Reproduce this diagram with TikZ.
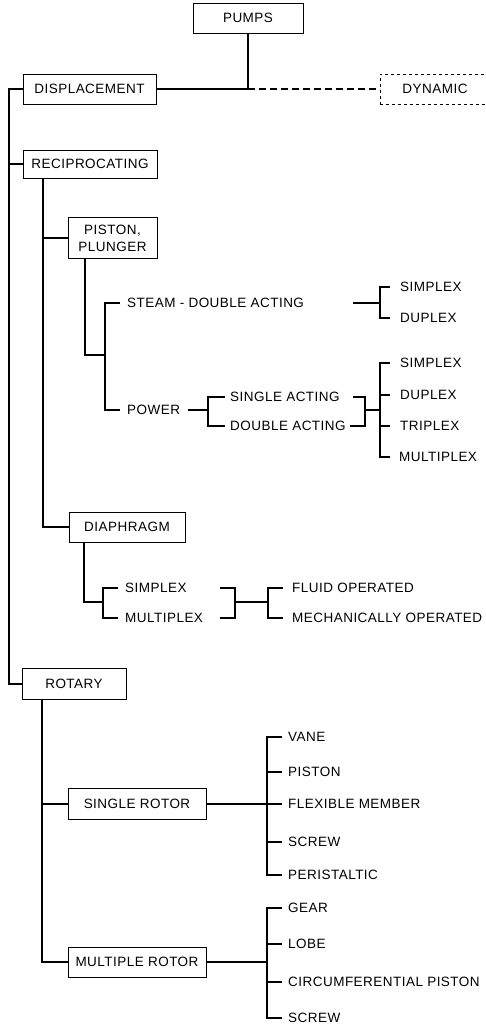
\documentclass[tikz,border=0pt]{standalone}
\usepackage{fontspec}
\setmainfont{Liberation Sans}[LetterSpace=3.5]
\usetikzlibrary{calc}
\begin{document}
\begin{tikzpicture}[x=1pt,y=-1pt,
  every node/.style={font=\fontsize{13.5pt}{17pt}\selectfont, inner sep=0pt},
  cbox/.style={draw, line width=0.9pt, align=center},
  lbl/.style={anchor=west},
  conn/.style={line width=1.8pt, line join=miter}]
\useasboundingbox (0,0) rectangle (485,1027);
\clip (0,0) rectangle (485,1027);
\fill[white] (0,0) rectangle (485,1027);

% boxes
\node[cbox, minimum width=110pt, minimum height=30pt] (pumps) at (248,18) {PUMPS};
\node[cbox, minimum width=133pt, minimum height=30pt] (disp) at (89.5,89) {DISPLACEMENT};
\node[draw, dashed, line width=0.9pt, anchor=west, text width=98pt, inner xsep=22pt, minimum height=30pt, align=left] (dyn) at (380,89) {DYNAMIC};
\node[cbox, minimum width=134pt, minimum height=28pt] (recip) at (90,164) {RECIPROCATING};
\node[cbox, minimum width=89pt, minimum height=41pt] (piston) at (112.5,238) {PISTON,\\PLUNGER};
\node[cbox, minimum width=116pt, minimum height=30pt] (diaph) at (127,527) {DIAPHRAGM};
\node[cbox, minimum width=104pt, minimum height=31pt] (rotary) at (74,684) {ROTARY};
\node[cbox, minimum width=138pt, minimum height=31pt] (srotor) at (137,804) {SINGLE ROTOR};
\node[cbox, minimum width=138pt, minimum height=30pt] (mrotor) at (137,962) {MULTIPLE ROTOR};

% labels
\node[lbl] (steam) at (127,303) {STEAM - DOUBLE ACTING};
\node[lbl] (power) at (127,410) {POWER};
\node[lbl] (s1) at (400,287) {SIMPLEX};
\node[lbl] (d1) at (400,318) {DUPLEX};
\node[lbl] (sa) at (230,397) {SINGLE ACTING};
\node[lbl] (da) at (230,426) {DOUBLE ACTING};
\node[lbl] (s2) at (400,363) {SIMPLEX};
\node[lbl] (d2) at (400,395) {DUPLEX};
\node[lbl] (t2) at (400,426) {TRIPLEX};
\node[lbl] (m2) at (399,457) {MULTIPLEX};
\node[lbl] (ds) at (125,588) {SIMPLEX};
\node[lbl] (dm) at (125,618) {MULTIPLEX};
\node[lbl] (fo) at (292,588) {FLUID OPERATED};
\node[lbl] (mo) at (292,618) {MECHANICALLY OPERATED};
\node[lbl] (vane) at (288,737) {VANE};
\node[lbl] (pist) at (288,772) {PISTON};
\node[lbl] (flex) at (288,804) {FLEXIBLE MEMBER};
\node[lbl] (scr1) at (288,842) {SCREW};
\node[lbl] (peri) at (288,875) {PERISTALTIC};
\node[lbl] (gear) at (288,908) {GEAR};
\node[lbl] (lobe) at (288,944) {LOBE};
\node[lbl] (circ) at (288,982) {CIRCUMFERENTIAL PISTON};
\node[lbl] (scr2) at (288,1018) {SCREW};

% coordinates
\coordinate (trunk) at (9,0);
\coordinate (rx) at (43,0);
\coordinate (px) at (85,0);
\coordinate (b1) at (105,355);
\coordinate (sl) at (353,303);
\coordinate (sj) at (380,303);
\coordinate (pl) at (188,410);
\coordinate (pj) at (208,410);
\coordinate (cat) at (353,397);
\coordinate (cab) at (350,426);
\coordinate (cj) at (365,410);
\coordinate (mj) at (380,410);
\coordinate (dx) at (84,0);
\coordinate (dj) at (103,602);
\coordinate (cdt) at (220,588);
\coordinate (cdb) at (220,618);
\coordinate (cj2) at (235,602);
\coordinate (fj) at (268,602);
\coordinate (rox) at (42,0);
\coordinate (br) at (267,0);

% top
\coordinate (j0) at (pumps.south |- disp.east);
\draw[conn] (pumps.south) -- (j0);
\draw[conn] (disp.east) -- (j0);
\draw[line width=1.8pt, dash pattern=on 7pt off 4pt] (j0) -- (dyn.west);

% trunk
\draw[conn] (disp.west) -- (disp.west -| trunk) |- (rotary.west);
\draw[conn] (recip.west) -- (recip.west -| trunk);

% reciprocating
\draw[conn] (recip.south -| rx) |- (diaph.west);
\draw[conn] (piston.west) -- (piston.west -| rx);

% piston, plunger
\draw[conn] (piston.south -| px) |- (b1);
\draw[conn] ([xshift=-7pt]steam.west) -| (b1) |- ([xshift=-7pt]power.west);
\draw[conn] (sl) -- (sj);
\draw[conn] ([xshift=-10pt]s1.west) -| (sj) |- ([xshift=-10pt]d1.west);
\draw[conn] (pl) -- (pj);
\draw[conn] ([xshift=-5pt]sa.west) -| (pj) |- ([xshift=-5pt]da.west);
\draw[conn] (cat) -| (cj) |- (cab);
\draw[conn] (cj) -- (mj);
\draw[conn] ([xshift=-10pt]s2.west) -| (mj) |- ([xshift=-9pt]m2.west);
\draw[conn] ([xshift=-10pt]d2.west) -- (d2.west -| mj);
\draw[conn] ([xshift=-10pt]t2.west) -- (t2.west -| mj);

% diaphragm
\draw[conn] (diaph.south -| dx) |- (dj);
\draw[conn] ([xshift=-7pt]ds.west) -| (dj) |- ([xshift=-7pt]dm.west);
\draw[conn] (cdt) -| (cj2) |- (cdb);
\draw[conn] (cj2) -- (fj);
\draw[conn] ([xshift=-9pt]fo.west) -| (fj) |- ([xshift=-9pt]mo.west);

% rotary
\draw[conn] (rotary.south -| rox) |- (mrotor.west);
\draw[conn] (srotor.west) -- (srotor.west -| rox);
\draw[conn] (srotor.east) -- (srotor.east -| br);
\draw[conn] ([xshift=-6pt]vane.west) -- (vane.west -| br) -- (peri.west -| br) -- ([xshift=-6pt]peri.west);
\draw[conn] ([xshift=-6pt]pist.west) -- (pist.west -| br);
\draw[conn] ([xshift=-6pt]flex.west) -- (flex.west -| br);
\draw[conn] ([xshift=-6pt]scr1.west) -- (scr1.west -| br);
\draw[conn] (mrotor.east) -- (mrotor.east -| br);
\draw[conn] ([xshift=-6pt]gear.west) -- (gear.west -| br) -- (scr2.west -| br) -- ([xshift=-6pt]scr2.west);
\draw[conn] ([xshift=-6pt]lobe.west) -- (lobe.west -| br);
\draw[conn] ([xshift=-6pt]circ.west) -- (circ.west -| br);
\end{tikzpicture}
\end{document}
